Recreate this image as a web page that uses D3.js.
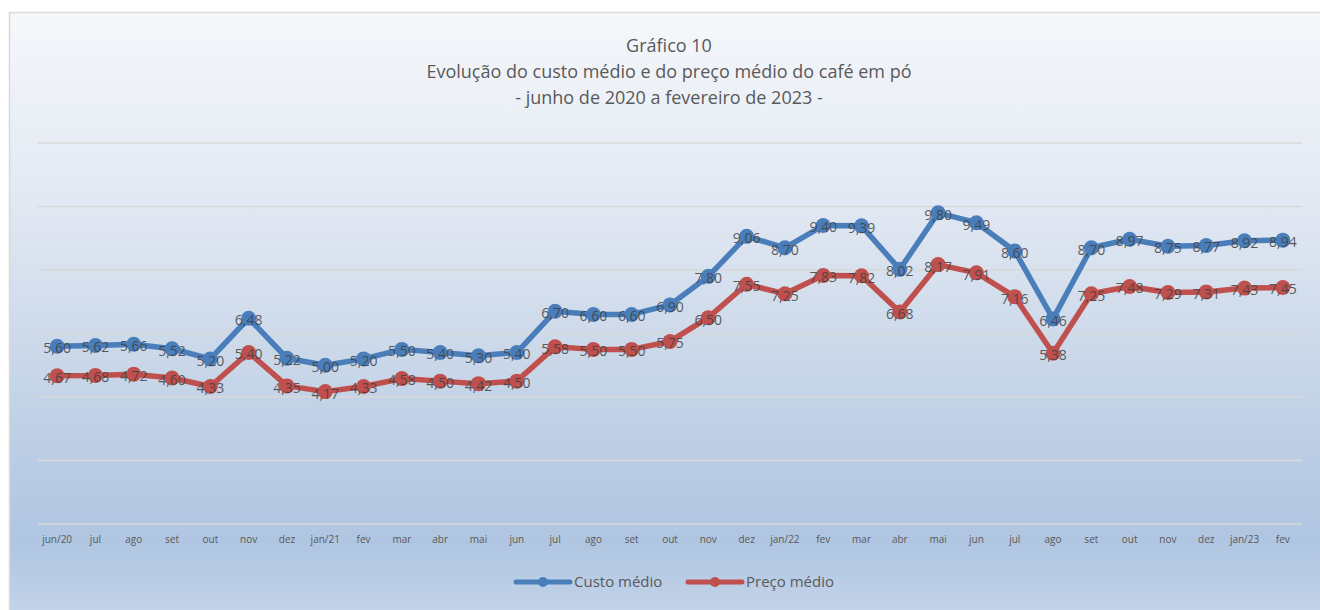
<!DOCTYPE html>
<html>
<head>
<meta charset="utf-8">
<script src="https://cdn.jsdelivr.net/npm/d3@7"></script>
<style>
  body { margin: 0; background: #fff; }
  svg { display: block; font-family: 'Open Sans', 'Noto Sans', sans-serif; }
</style>
</head>
<body>
<svg id="chart" width="1320" height="610"></svg>
<script>
const months = ['jun/20', 'jul', 'ago', 'set', 'out', 'nov', 'dez', 'jan/21', 'fev', 'mar', 'abr', 'mai', 'jun',
  'jul', 'ago', 'set', 'out', 'nov', 'dez', 'jan/22', 'fev', 'mar', 'abr', 'mai', 'jun', 'jul', 'ago', 'set',
  'out', 'nov', 'dez', 'jan/23', 'fev'];
const custo = [5.60, 5.62, 5.66, 5.52, 5.20, 6.48, 5.22, 5.00, 5.20, 5.50, 5.40, 5.30, 5.40, 6.70, 6.60, 6.60,
  6.90, 7.80, 9.06, 8.70, 9.40, 9.39, 8.02, 9.80, 9.49, 8.60, 6.46, 8.70, 8.97, 8.75, 8.77, 8.92, 8.94];
const preco = [4.67, 4.68, 4.72, 4.60, 4.33, 5.40, 4.35, 4.17, 4.33, 4.58, 4.50, 4.42, 4.50, 5.58, 5.50, 5.50,
  5.75, 6.50, 7.55, 7.25, 7.83, 7.82, 6.68, 8.17, 7.91, 7.16, 5.38, 7.25, 7.48, 7.29, 7.31, 7.43, 7.45];
const yTicks = [0, 2, 4, 6, 8, 10, 12];
const series = [
  { name: 'Custo médio', values: custo, color: '#4a7ebb' },
  { name: 'Preço médio', values: preco, color: '#c0504d' },
];
const titleLines = ['Gráfico 10', 'Evolução do custo médio e do preço médio do café em pó', '- junho de 2020 a fevereiro de 2023 -'];

const svg = d3.select('#chart');
const defs = svg.append('defs');
const grad = defs.append('linearGradient').attr('id', 'bg')
  .attr('x1', 0).attr('y1', 0).attr('x2', 0).attr('y2', 1);
grad.append('stop').attr('offset', '0%').attr('stop-color', '#f5f8fb');
grad.append('stop').attr('offset', '30%').attr('stop-color', '#e3e9f3');
grad.append('stop').attr('offset', '65%').attr('stop-color', '#c2d2e6');
grad.append('stop').attr('offset', '87%').attr('stop-color', '#afc5e1');
grad.append('stop').attr('offset', '100%').attr('stop-color', '#c6d6ea');

svg.append('rect')
  .attr('x', 9.5).attr('y', 12.5).attr('width', 1320).attr('height', 610)
  .attr('fill', 'url(#bg)')
  .attr('stroke', '#d9d9d9').attr('stroke-width', 1.5);

const margin = { left: 38, right: 1302, top: 143, bottom: 524 };
const x = d3.scaleBand().domain(d3.range(months.length)).range([margin.left, margin.right]);
const y = d3.scaleLinear().domain([0, 12]).range([margin.bottom, margin.top]);
const cx = (i) => x(i) + x.bandwidth() / 2;

// title
svg.append('g').selectAll('text')
  .data(titleLines).enter()
  .append('text')
  .attr('x', 669)
  .attr('y', (d, i) => 52 + i * 26)
  .attr('text-anchor', 'middle')
  .attr('font-size', 18)
  .attr('fill', '#595959')
  .text(d => d);

// gridlines
svg.append('g').selectAll('line')
  .data(yTicks).enter()
  .append('line')
  .attr('x1', margin.left).attr('x2', margin.right)
  .attr('y1', d => y(d)).attr('y2', d => y(d))
  .attr('stroke', '#d9d9d9').attr('stroke-width', 1.5);

// x axis labels
const xAxis = d3.axisBottom(x).tickSize(0).tickPadding(12).tickFormat(i => months[i]);
const gx = svg.append('g').attr('transform', `translate(0,${margin.bottom})`).call(xAxis);
gx.select('.domain').remove();
gx.selectAll('text').attr('font-size', 10).attr('fill', '#595959')
  .attr('font-family', "'Open Sans', 'Noto Sans', sans-serif");

const line = d3.line().x((d, i) => cx(i)).y(d => y(d));

series.forEach((s) => {
  const g = svg.append('g');
  g.append('path')
    .attr('d', line(s.values))
    .attr('fill', 'none')
    .attr('stroke', s.color)
    .attr('stroke-width', 5.5)
    .attr('stroke-linejoin', 'round');
  g.selectAll('circle')
    .data(s.values).enter()
    .append('circle')
    .attr('cx', (d, i) => cx(i))
    .attr('cy', d => y(d))
    .attr('r', 7.5)
    .attr('fill', s.color);
});

// data labels on top
series.forEach((s) => {
  svg.append('g').selectAll('text')
    .data(s.values).enter()
    .append('text')
    .attr('x', (d, i) => cx(i))
    .attr('y', d => y(d) + 2)
    .attr('dy', '0.35em')
    .attr('text-anchor', 'middle')
    .attr('font-size', 14)
    .attr('fill', '#404040')
    .attr('fill-opacity', 0.85)
    .text(d => d3.format('.2f')(d).replace('.', ','));
});

// legend
const legend = svg.append('g').attr('transform', 'translate(516,582)');
series.forEach((s, i) => {
  const lg = legend.append('g').attr('transform', `translate(${i * 172},0)`);
  lg.append('line').attr('x1', 0).attr('x2', 54).attr('y1', 0).attr('y2', 0)
    .attr('stroke', s.color).attr('stroke-width', 5).attr('stroke-linecap', 'round');
  lg.append('circle').attr('cx', 27).attr('cy', 0).attr('r', 5).attr('fill', s.color);
  lg.append('text').attr('x', 58).attr('y', 0).attr('dy', '0.35em')
    .attr('font-size', 15).attr('fill', '#595959').text(s.name);
});
</script>
</body>
</html>
